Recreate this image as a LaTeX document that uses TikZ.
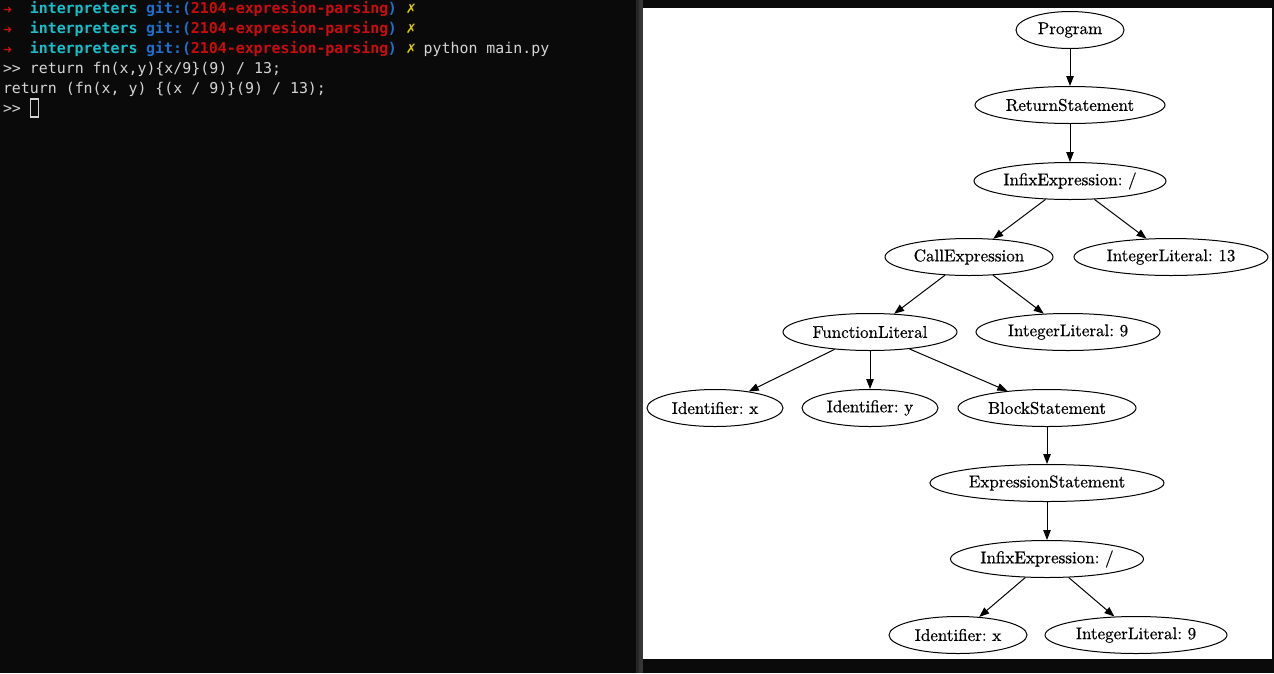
\documentclass[tikz,border=0pt]{standalone}
\usepackage{fontspec}
\usetikzlibrary{shapes.geometric,arrows.meta}
\newfontfamily\termfont{DejaVu Sans Mono}
\newfontfamily\symfont{DejaVu Sans}
\newfontfamily\astfont{lmroman10-regular}[Extension=.otf,FakeBold=0.6]
\frenchspacing
\definecolor{termbg}{HTML}{0A0A0A}
\definecolor{divA}{HTML}{262626}
\definecolor{divB}{HTML}{363636}
\definecolor{tcyan}{HTML}{17BFCB}
\definecolor{tblue}{HTML}{1E6FCB}
\definecolor{tred}{HTML}{CC0C0C}
\definecolor{tyel}{HTML}{D8CC00}
\definecolor{tgray}{HTML}{D4D4D4}
\tikzset{
  term/.style={anchor=base west,inner sep=0pt,outer sep=0pt,font=\termfont\fontsize{14.9}{18}\selectfont,text=tgray},
  termb/.style={term,font=\termfont\bfseries\fontsize{14.9}{18}\selectfont},
  ast/.style={ellipse,draw=black,line width=1pt,inner sep=0pt,minimum height=37pt,
    font=\astfont\fontsize{17}{20}\selectfont\frenchspacing,text=black},
  edge/.style={line width=1pt,draw=black,-{Triangle[length=10pt,width=7.5pt]}}
}
\begin{document}
\begin{tikzpicture}[x=1pt,y=-1pt]
\useasboundingbox (0,0) rectangle (1274,673);
\fill[termbg] (0,0) rectangle (1274,673);
\fill[divA] (636,0) rectangle (639,673);
\fill[divB] (639,0) rectangle (643,673);
\fill[white] (643,8) rectangle (1272,659);
% terminal
\foreach \b/\n in {13.5/1,33.5/2,53.5/3}{
  \node[term,text=tred,font=\symfont\bfseries\fontsize{11}{12}\selectfont] (arr\n) at (3,\b-0.5) {➜};
  \node[termb,text=tcyan] (dir\n) at (3+3*8.95,\b) {interpreters};
  \node[termb,text=tblue] (git\n) at (3+16*8.95,\b) {git:(};
  \node[termb,text=tred] (br\n) at (3+21*8.95,\b) {2104-expresion-parsing};
  \node[termb,text=tblue] (cl\n) at (3+43*8.95,\b) {)};
  \node[term,text=tyel,font=\symfont\bfseries\fontsize{13}{15}\selectfont] (x\n) at (3+45*8.95,\b) {✗};
}
\node[term] (cmd) at (3+47*8.95,53.5) {python main.py};
\node[term] (in1) at (3,73.5) {>{}> return fn(x,y)\{x/9\}(9) / 13;};
\node[term] (out1) at (3,93.5) {return (fn(x, y) \{(x / 9)\}(9) / 13);};
\node[term] (pr) at (3,113.5) {>{}>};
\draw[tgray,line width=1.2pt] (30.5,99) rectangle (38.5,117);
% AST graph
\node[ast,minimum width=108pt] (prog) at (1070,30) {Program};
\node[ast,minimum width=190pt] (ret) at (1070,105) {ReturnStatement};
\node[ast,minimum width=192pt] (inf1) at (1070,181) {InfixExpression: /};
\node[ast,minimum width=168pt] (call) at (969,257) {CallExpression};
\node[ast,minimum width=194pt] (i13) at (1171,257) {IntegerLiteral: 13};
\node[ast,minimum width=174pt] (fn) at (870,332) {FunctionLiteral};
\node[ast,minimum width=184pt] (i9a) at (1068,332) {IntegerLiteral: 9};
\node[ast,minimum width=136pt] (idx) at (715,408) {Identifier: x};
\node[ast,minimum width=136pt] (idy) at (870,408) {Identifier: y};
\node[ast,minimum width=178pt] (blk) at (1047,408) {BlockStatement};
\node[ast,minimum width=234pt] (exs) at (1047,483) {ExpressionStatement};
\node[ast,minimum width=193pt] (inf2) at (1047,559) {InfixExpression: /};
\node[ast,minimum width=138pt] (idx2) at (958,635) {Identifier: x};
\node[ast,minimum width=182pt] (i9b) at (1136,635) {IntegerLiteral: 9};
\draw[edge] (prog) -- (ret);
\draw[edge] (ret) -- (inf1);
\draw[edge] (inf1) -- (call);
\draw[edge] (inf1) -- (i13);
\draw[edge] (call) -- (fn);
\draw[edge] (call) -- (i9a);
\draw[edge] (fn) -- (idx);
\draw[edge] (fn) -- (idy);
\draw[edge] (fn) -- (blk);
\draw[edge] (blk) -- (exs);
\draw[edge] (exs) -- (inf2);
\draw[edge] (inf2) -- (idx2);
\draw[edge] (inf2) -- (i9b);
\end{tikzpicture}
\end{document}
